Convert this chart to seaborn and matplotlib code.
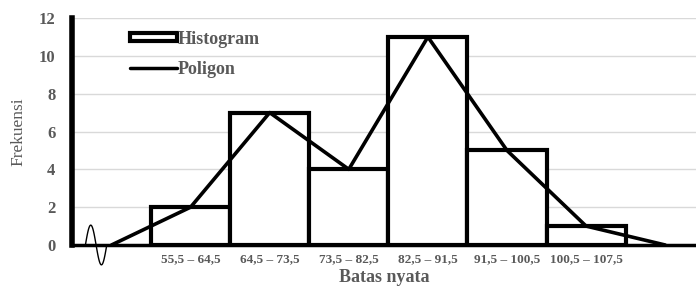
import matplotlib.pyplot as plt
import numpy as np
import seaborn as sns
from matplotlib.lines import Line2D
from matplotlib.patches import Patch

# class boundaries and frequencies
labels = ['55,5 – 64,5', '64,5 – 73,5', '73,5 – 82,5',
          '82,5 – 91,5', '91,5 – 100,5', '100,5 – 107,5']
freq = [2, 7, 4, 11, 5, 1]
# polygon closes at zero on both sides
poly = [0] + freq + [0]

sns.set_theme(style='white')
plt.rcParams['font.family'] = ['Liberation Serif', 'DejaVu Serif']

GRAY = '#595959'

fig = plt.figure(figsize=(6.96, 2.86), dpi=100)
ax = fig.add_axes([0.1034, 0.1434, 0.8966, 0.7936])

pos = np.arange(len(poly))
ax.set_axisbelow(True)
ax.yaxis.grid(True, color='#d9d9d9', lw=1)

sns.barplot(x=pos[1:-1], y=freq, native_scale=True, width=1.0,
            color='white', edgecolor='black', linewidth=3, ax=ax,
            zorder=2)
sns.lineplot(x=pos, y=poly, color='black', lw=2.6, ax=ax, zorder=3)

# axis-break squiggle on the x axis
t = np.linspace(0, 2 * np.pi, 60)
ax.plot(np.linspace(-0.33, -0.06, 60), np.sin(t) * 1.05, color='black',
        lw=1, clip_on=False, zorder=4)

ax.set_xlim(-0.5, 7.39)
ax.set_ylim(0, 12)
ax.set_yticks(range(0, 13, 2))
ax.set_xticks(pos[1:-1])
ax.set_xticklabels(labels, fontsize=9.5, color=GRAY, fontweight='bold')
for lab in ax.get_yticklabels():
    lab.set_fontweight('bold')
    lab.set_color(GRAY)
    lab.set_fontsize(12)
ax.tick_params(axis='y', length=0, pad=12)
ax.tick_params(axis='x', length=0, pad=6)

ax.set_xlabel('Batas nyata', fontsize=13, fontweight='bold', color=GRAY,
              labelpad=3)
ax.set_ylabel('Frekuensi', fontsize=12.5, color=GRAY, labelpad=9)

for side in ['top', 'right']:
    ax.spines[side].set_visible(False)
ax.spines['left'].set_linewidth(4)
ax.spines['left'].set_color('black')
ax.spines['bottom'].set_linewidth(2.5)
ax.spines['bottom'].set_color('black')

handles = [Patch(facecolor='white', edgecolor='black', lw=3),
           Line2D([0], [0], color='black', lw=2.5)]
leg = ax.legend(handles, ['Histogram', 'Poligon'], loc='upper left',
                bbox_to_anchor=(0.093, 0.945), frameon=False, fontsize=13,
                handlelength=2.6, handleheight=0.33, handletextpad=0.05,
                labelspacing=0.72, borderpad=0, borderaxespad=0)
for txt in leg.get_texts():
    txt.set_fontweight('bold')
    txt.set_color(GRAY)

fig.savefig('out.png', dpi=100)
